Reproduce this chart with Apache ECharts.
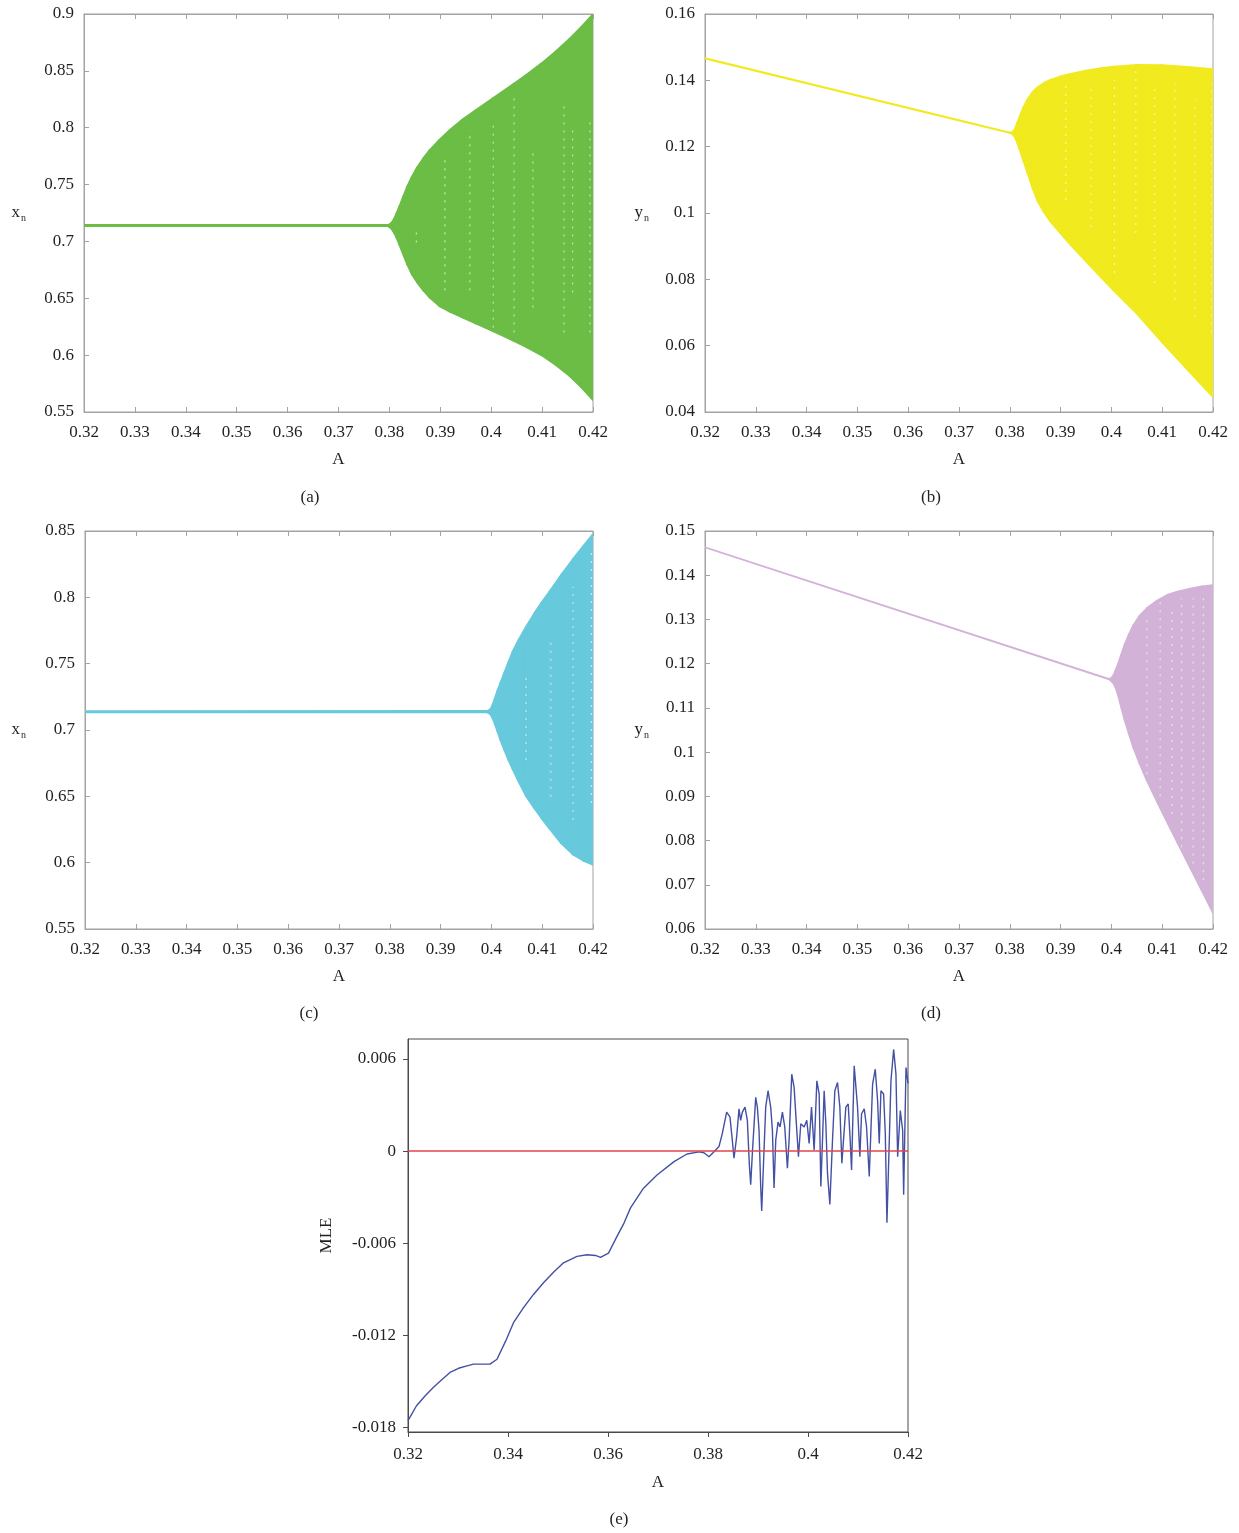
<!DOCTYPE html>
<html>
<head>
<meta charset="utf-8">
<script src="https://cdn.jsdelivr.net/npm/echarts@6/dist/echarts.min.js"></script>
<style>
  html, body { margin: 0; padding: 0; background: #ffffff; }
  #chart { width: 1239px; height: 1533px; }
</style>
</head>
<body>
<div id="chart"></div>
<script>
// ---------- bifurcation envelopes (parameter A, lower and upper bound of the orbit) ----------
// (a) x_n, first map
const aParam = [0.3200, 0.3797, 0.3801, 0.3805, 0.3810, 0.3815, 0.3821, 0.3828, 0.3836, 0.3845, 0.3855, 0.3867, 0.3880,
                0.3899, 0.3920, 0.3945, 0.3970, 0.4004, 0.4043, 0.4070, 0.4099, 0.4127, 0.4155, 0.4178, 0.4200];
const aHigh  = [0.7140, 0.7140, 0.7145, 0.7160, 0.7195, 0.7245, 0.7310, 0.7390, 0.7480, 0.7565, 0.7645, 0.7725, 0.7800,
                0.7890, 0.7978, 0.8070, 0.8150, 0.8255, 0.8376, 0.8462, 0.8560, 0.8664, 0.8779, 0.8883, 0.8990];
const aLow   = [0.7140, 0.7140, 0.7130, 0.7115, 0.7080, 0.7035, 0.6970, 0.6890, 0.6800, 0.6715, 0.6645, 0.6575, 0.6510,
                0.6435, 0.6385, 0.6335, 0.6283, 0.6215, 0.6135, 0.6075, 0.6005, 0.5920, 0.5820, 0.5720, 0.5612];
// sparse columns inside the chaotic band of (a)
const aGapParam  = [0.3853, 0.3909, 0.3958, 0.4004, 0.4045, 0.4082, 0.4143, 0.4160, 0.4194];
const aGapTop    = [0.710, 0.774, 0.798, 0.804, 0.830, 0.780, 0.824, 0.801, 0.809];
const aGapBottom = [0.699, 0.657, 0.657, 0.624, 0.620, 0.642, 0.620, 0.655, 0.620];

// (b) y_n, first map
const bParam = [0.3200, 0.3800, 0.3805, 0.3810, 0.3815, 0.3820, 0.3827, 0.3835, 0.3845, 0.3855, 0.3867, 0.3880,
                0.3899, 0.3920, 0.3950, 0.3980, 0.4004, 0.4050, 0.4100, 0.4150, 0.4200];
const bHigh  = [0.1466, 0.1242, 0.1243, 0.1252, 0.1272, 0.1292, 0.1318, 0.1342, 0.1364, 0.1379, 0.1391, 0.1401,
                0.1411, 0.1419, 0.1429, 0.1436, 0.1441, 0.1446, 0.1445, 0.1440, 0.1433];
const bLow   = [0.1466, 0.1242, 0.1239, 0.1230, 0.1212, 0.1190, 0.1158, 0.1122, 0.1076, 0.1036, 0.1004, 0.0975,
                0.0941, 0.0904, 0.0855, 0.0806, 0.0768, 0.0698, 0.0611, 0.0528, 0.0446];
const bGapParam  = [0.3910, 0.3960, 0.4006, 0.4048, 0.4085, 0.4125, 0.4165, 0.4197];
const bGapTop    = [0.1392, 0.1392, 0.1401, 0.1438, 0.1392, 0.1392, 0.1340, 0.1390];
const bGapBottom = [0.1039, 0.0958, 0.0819, 0.0940, 0.0789, 0.0738, 0.0686, 0.0640];

// (c) x_n, second map
const cParam = [0.3200, 0.3992, 0.3996, 0.4000, 0.4004, 0.4008, 0.4013, 0.4019, 0.4026, 0.4034, 0.4043, 0.4055,
                0.4069, 0.4085, 0.4100, 0.4115, 0.4138, 0.4161, 0.4181, 0.4200];
const cHigh  = [0.7138, 0.7139, 0.7145, 0.7160, 0.7195, 0.7240, 0.7295, 0.7355, 0.7425, 0.7505, 0.7590, 0.7680,
                0.7775, 0.7875, 0.7960, 0.8040, 0.8165, 0.8283, 0.8380, 0.8470];
const cLow   = [0.7138, 0.7137, 0.7131, 0.7116, 0.7085, 0.7045, 0.6990, 0.6925, 0.6855, 0.6780, 0.6705, 0.6610,
                0.6505, 0.6415, 0.6335, 0.6260, 0.6150, 0.6065, 0.6020, 0.5990];
const cGapParam  = [0.4068, 0.4117, 0.4161, 0.4197];
const cGapTop    = [0.7402, 0.7678, 0.8080, 0.8334];
const cGapBottom = [0.6774, 0.6497, 0.6322, 0.6450];

// (d) y_n, second map
const dParam = [0.3200, 0.3996, 0.4000, 0.4004, 0.4008, 0.4013, 0.4019, 0.4026, 0.4034, 0.4043, 0.4055, 0.4070,
                0.4090, 0.4109, 0.4130, 0.4155, 0.4178, 0.4200];
const dHigh  = [0.1463, 0.11655, 0.1168, 0.1174, 0.1185, 0.1200, 0.1220, 0.1244, 0.1266, 0.1287, 0.1308, 0.1326,
                0.1343, 0.1355, 0.1363, 0.1370, 0.1375, 0.1378];
const dLow   = [0.1463, 0.11645, 0.1160, 0.1155, 0.1146, 0.1128, 0.1102, 0.1072, 0.1042, 0.1010, 0.0975, 0.0935,
                0.0887, 0.0843, 0.0795, 0.0738, 0.0686, 0.0636];
const dGapParam  = [0.4070, 0.4096, 0.4119, 0.4138, 0.4161, 0.4181];
const dGapTop    = [0.1310, 0.1340, 0.1325, 0.1348, 0.1348, 0.1348];
const dGapBottom = [0.0950, 0.0900, 0.0860, 0.0785, 0.0748, 0.0710];

// ---------- (e) maximal Lyapunov exponent ----------
const mleParam = [
  0.3200, 0.3217, 0.3234, 0.3251, 0.3268, 0.3284, 0.3301, 0.3318, 0.3331, 0.3364, 0.3378, 0.3395,
  0.3411, 0.3431, 0.3451, 0.3471, 0.3491, 0.3511, 0.3538, 0.3558, 0.3575, 0.3585, 0.3601, 0.3618,
  0.3632, 0.3645, 0.3671, 0.3698, 0.3732, 0.3758, 0.3782, 0.3792, 0.3802, 0.3812, 0.3822,
  0.38286, 0.38373, 0.3844, 0.38486, 0.3852, 0.38573, 0.3862, 0.38653, 0.38687, 0.3874, 0.38787,
  0.38827, 0.38854, 0.38887, 0.38954, 0.38987, 0.39021, 0.39054, 0.39074, 0.39108, 0.39154, 0.39201,
  0.39254, 0.39288, 0.39321, 0.39355, 0.39401, 0.39441, 0.39488, 0.39535, 0.39588, 0.39622, 0.39675,
  0.39722, 0.39776, 0.39809, 0.39856, 0.39923, 0.39976, 0.40023, 0.40070, 0.40123, 0.40177, 0.40223,
  0.40257, 0.40290, 0.40323, 0.40357, 0.40390, 0.40437, 0.40490, 0.40537, 0.40591, 0.40637, 0.40677,
  0.40711, 0.40757, 0.40804, 0.40844, 0.40871, 0.40924, 0.40991, 0.41038, 0.41071, 0.41125, 0.41171,
  0.41225, 0.41292, 0.41345, 0.41392, 0.41425, 0.41459, 0.41512, 0.41546, 0.41579, 0.41626, 0.41659,
  0.41713, 0.41759, 0.41793, 0.41846, 0.41893, 0.41913, 0.41960, 0.42000
];
const mleValue = [
  -0.01756, -0.01659, -0.01595, -0.01539, -0.01488, -0.01442, -0.01415, -0.01399, -0.01388, -0.01388, -0.01356, -0.01240,
  -0.01118, -0.01020, -0.00934, -0.00858, -0.00790, -0.00728, -0.00686, -0.00675, -0.00680, -0.00692, -0.00665, -0.00556,
  -0.00469, -0.00370, -0.00242, -0.00156, -0.00069, -0.00019, -0.00005, -0.00011, -0.00037, -0.00005, 0.00030,
  0.00114, 0.00254, 0.00221, 0.00071, -0.00047, 0.00092, 0.00275, 0.00200, 0.00254, 0.00286, 0.00200,
  -0.00090, -0.00219, -0.00015, 0.00350, 0.00286, 0.00135, -0.00230, -0.00391, -0.00101, 0.00286, 0.00393,
  0.00286, 0.00135, -0.00241, 0.00071, 0.00189, 0.00157, 0.00254, 0.00157, -0.00112, 0.00071, 0.00501,
  0.00415, 0.00135, -0.00037, 0.00178, 0.00157, 0.00200, 0.00049, 0.00286, 0.00006, 0.00458, 0.00372,
  -0.00230, 0.00071, 0.00393, 0.00178, -0.00144, -0.00348, 0.00071, 0.00393, 0.00447, 0.00286, -0.00080,
  -0.00080, 0.00286, 0.00307, 0.00071, -0.00123, 0.00555, 0.00286, -0.00037, 0.00243, 0.00275, 0.00157,
  -0.00166, 0.00436, 0.00533, 0.00329, 0.00049, 0.00393, 0.00372, 0.00114, -0.00467, 0.00071, 0.00458,
  0.00662, 0.00501, -0.00037, 0.00264, 0.00135, -0.00284, 0.00544, 0.00440
];
const zeroParam = [0.32, 0.42];
const zeroValue = [0, 0];
const mleTicks = [-0.018, -0.012, -0.006, 0, 0.006];

// ---------- styling ----------
const serif = '"Liberation Serif", "Times New Roman", "DejaVu Serif", serif';
const ink = '#231f20';
const frame = '#a3a3a3';
const frameDark = '#4a4a4a';
const fmt = v => String(+Number(v).toFixed(4));

const panels = [
  { param: aParam, low: aLow, high: aHigh, gp: aGapParam, gt: aGapTop, gb: aGapBottom,
    color: '#6bbd45', stroke: 3, ymin: 0.55, ymax: 0.9, ystep: 0.05, yname: 'x', nameGap: 58,
    grid: { left: 84, top: 14, width: 509, height: 398 } },
  { param: bParam, low: bLow, high: bHigh, gp: bGapParam, gt: bGapTop, gb: bGapBottom,
    color: '#f0ea1e', stroke: 2.2, ymin: 0.04, ymax: 0.16, ystep: 0.02, yname: 'y', nameGap: 56,
    grid: { left: 705, top: 14, width: 508, height: 398 } },
  { param: cParam, low: cLow, high: cHigh, gp: cGapParam, gt: cGapTop, gb: cGapBottom,
    color: '#67c9dc', stroke: 3, ymin: 0.55, ymax: 0.85, ystep: 0.05, yname: 'x', nameGap: 59,
    grid: { left: 85, top: 531, width: 508, height: 398 } },
  { param: dParam, low: dLow, high: dHigh, gp: dGapParam, gt: dGapTop, gb: dGapBottom,
    color: '#d3b2d8', stroke: 1.6, ymin: 0.06, ymax: 0.15, ystep: 0.01, yname: 'y', nameGap: 56,
    grid: { left: 705, top: 531, width: 508, height: 398 } }
];

const labelStyle = { fontFamily: serif, fontSize: 17, color: ink };

const grid = [];
const xAxis = [];
const yAxis = [];
const series = [];

panels.forEach((p, i) => {
  grid.push(Object.assign({ show: true, borderColor: frame, borderWidth: 1, backgroundColor: 'transparent' }, p.grid));
  const line = { show: true, onZero: false, lineStyle: { color: frame, width: 1 } };
  const tick = { show: true, inside: true, length: 5, lineStyle: { color: frame, width: 1 } };
  xAxis.push({
    gridIndex: i, type: 'value', position: 'bottom', min: 0.32, max: 0.42, interval: 0.01,
    name: 'A', nameLocation: 'middle', nameGap: 39, nameTextStyle: labelStyle,
    axisLine: line, axisTick: tick, splitLine: { show: false },
    axisLabel: Object.assign({ margin: 12, formatter: fmt }, labelStyle)
  });
  xAxis.push({
    gridIndex: i, type: 'value', position: 'top', min: 0.32, max: 0.42, interval: 0.01,
    axisLine: line, axisTick: tick, splitLine: { show: false }, axisLabel: { show: false }
  });
  yAxis.push({
    gridIndex: i, type: 'value', min: p.ymin, max: p.ymax, interval: p.ystep,
    name: '{v|' + p.yname + '}{s|n}', nameLocation: 'middle', nameRotate: 0, nameGap: p.nameGap,
    nameTextStyle: {
      rich: {
        v: { fontFamily: serif, fontSize: 17, color: ink },
        s: { fontFamily: serif, fontSize: 10, color: ink, padding: [11, 0, 0, 1] }
      }
    },
    axisLine: line, axisTick: tick, splitLine: { show: false },
    axisLabel: Object.assign({ margin: 10, formatter: fmt }, labelStyle)
  });

  // orbit envelope, one quad between consecutive parameter samples
  const rows = [];
  for (let k = 0; k < p.param.length - 1; k++) {
    rows.push([p.param[k], p.low[k], p.high[k], p.param[k + 1], p.low[k + 1], p.high[k + 1]]);
  }
  const color = p.color, stroke = p.stroke;
  series.push({
    type: 'custom', xAxisIndex: 2 * i, yAxisIndex: i, silent: true, clip: true, z: 2,
    encode: { x: [0, 3], y: [1, 2, 4, 5] },
    data: rows,
    renderItem: (params, api) => {
      const pts = [
        api.coord([api.value(0), api.value(1)]),
        api.coord([api.value(3), api.value(4)]),
        api.coord([api.value(3), api.value(5)]),
        api.coord([api.value(0), api.value(2)])
      ];
      return { type: 'polygon', shape: { points: pts },
               style: { fill: color, stroke: color, lineWidth: stroke, lineJoin: 'round' } };
    }
  });

  // thin columns of the band where the orbit visits less often
  const gaps = p.gp.map((a, k) => [a, p.gb[k], p.gt[k]]);
  series.push({
    type: 'custom', xAxisIndex: 2 * i, yAxisIndex: i, silent: true, clip: true, z: 3,
    encode: { x: 0, y: [1, 2] },
    data: gaps,
    renderItem: (params, api) => {
      const s = api.coord([api.value(0), api.value(1)]);
      const e = api.coord([api.value(0), api.value(2)]);
      return { type: 'line', shape: { x1: s[0], y1: s[1], x2: e[0], y2: e[1] },
               style: { stroke: '#ffffff', lineWidth: 1.2, lineDash: [2, 6], opacity: 0.6 } };
    }
  });
});

// (e) Lyapunov exponent panel
grid.push({ show: true, borderColor: frameDark, borderWidth: 1, left: 408, top: 1039, width: 500, height: 393 });
const darkLine = { show: true, onZero: false, lineStyle: { color: frameDark, width: 1 } };
const darkTick = { show: true, inside: false, length: 5, lineStyle: { color: frameDark, width: 1 } };
xAxis.push({
  gridIndex: 4, type: 'value', position: 'bottom', min: 0.32, max: 0.42, interval: 0.02,
  name: 'A', nameLocation: 'middle', nameGap: 42, nameTextStyle: labelStyle,
  axisLine: darkLine, axisTick: darkTick, splitLine: { show: false },
  axisLabel: Object.assign({ margin: 14, formatter: fmt }, labelStyle)
});
yAxis.push({
  gridIndex: 4, type: 'value', min: -0.0183, max: 0.0073,
  name: 'MLE', nameLocation: 'middle', nameRotate: 90, nameGap: 73, nameTextStyle: labelStyle,
  axisLine: darkLine, splitLine: { show: false },
  axisTick: Object.assign({ customValues: mleTicks }, darkTick),
  axisLabel: Object.assign({ margin: 12, formatter: fmt, customValues: mleTicks }, labelStyle)
});
series.push({
  type: 'line', xAxisIndex: 8, yAxisIndex: 4, showSymbol: false, silent: true, z: 3,
  lineStyle: { color: '#4350a3', width: 1.4 },
  data: mleParam.map((a, k) => [a, mleValue[k]])
});
series.push({
  type: 'line', xAxisIndex: 8, yAxisIndex: 4, showSymbol: false, silent: true, z: 4,
  lineStyle: { color: '#e3434b', width: 1.5 },
  data: zeroParam.map((a, k) => [a, zeroValue[k]])
});

// panel letters
const letters = [['(a)', 310, 498], ['(b)', 931, 498], ['(c)', 309, 1014], ['(d)', 931, 1014], ['(e)', 619, 1520]];
const graphic = letters.map(([t, x, y]) => ({
  type: 'text', x: x, y: y, silent: true,
  style: { text: t, font: '17px ' + serif, fill: ink, align: 'center', verticalAlign: 'middle',
           textAlign: 'center', textVerticalAlign: 'middle' }
}));

const chart = echarts.init(document.getElementById('chart'), null, { renderer: 'canvas' });
chart.setOption({
  backgroundColor: '#ffffff',
  animation: false,
  grid, xAxis, yAxis, series, graphic
});
</script>
</body>
</html>
